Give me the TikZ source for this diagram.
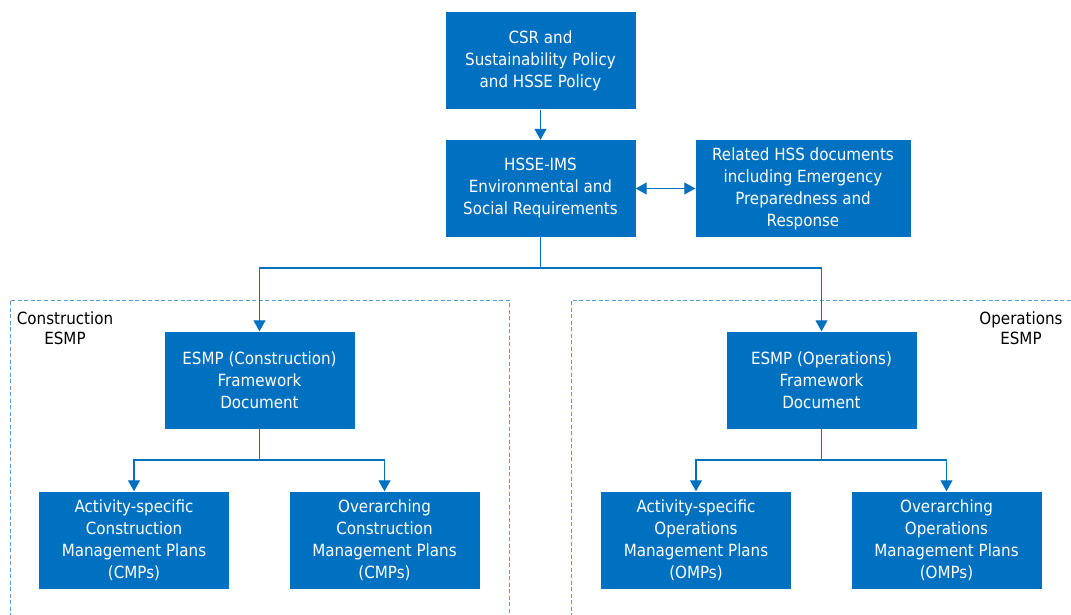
\documentclass[tikz,border=0pt]{standalone}
\usepackage{fontspec}
\setmainfont{DejaVu Sans Condensed}
\usetikzlibrary{arrows.meta}
\definecolor{esmpblue}{RGB}{0,112,192}
\definecolor{dashblue}{RGB}{91,155,213}
\begin{document}
\begin{tikzpicture}[x=1pt,y=-1pt,
    box/.style={fill=esmpblue, text=white, minimum width=190pt, minimum height=97pt, align=center, inner sep=2pt, font=\fontsize{16.8}{22}\selectfont},
    link/.style={draw=esmpblue, line width=1.1pt, -{Triangle[width=12pt,length=11pt]}},
    frame/.style={draw=dashblue, line width=1pt, dash pattern=on 4pt off 2.5pt},
    tag/.style={align=center, font=\fontsize{16.8}{20}\selectfont}]
        \useasboundingbox (0,0) rectangle (1071,615);
        % dashed frames
        \draw[frame] (10,630) -- (10,300) -- (509,300) -- (509,630);
        \draw[frame] (571,630) -- (571,300) -- (1085,300);
        \node[tag] (lbcon) at (65,328) {Construction\\ESMP};
        \node[tag] (lbops) at (1021,328) {Operations\\ESMP};
        % boxes
        \node[box] (policy) at (540.5,61) {CSR and\\Sustainability Policy\\and HSSE Policy};
        \node[box] (hsse) at (540.5,188.5) {HSSE-IMS\\Environmental and\\Social Requirements};
        \node[box, minimum width=215pt] (related) at (803,188.5) {Related HSS documents\\including Emergency\\Preparedness and\\Response};
        \node[box] (esmpc) at (259.5,380) {ESMP (Construction)\\Framework\\Document};
        \node[box] (esmpo) at (821.5,380) {ESMP (Operations)\\Framework\\Document};
        \node[box] (actc) at (134,540) {Activity-specific\\Construction\\Management Plans\\(CMPs)};
        \node[box] (overc) at (384.5,540) {Overarching\\Construction\\Management Plans\\(CMPs)};
        \node[box] (acto) at (696,540) {Activity-specific\\Operations\\Management Plans\\(OMPs)};
        \node[box] (overo) at (946.5,540) {Overarching\\Operations\\Management Plans\\(OMPs)};
        % connectors
        \coordinate (split) at (540.5,268);
        \coordinate (splitc) at (259.5,460);
        \coordinate (splito) at (821.5,460);
        \draw[link] (policy) -- (hsse);
        \draw[link, {Triangle[width=12pt,length=11pt]}-{Triangle[width=12pt,length=11pt]}] (hsse) -- (related);
        \draw[link] (hsse.south) -- (split) -| (esmpc.north);
        \draw[link] (split) -| (esmpo.north);
        \draw[link] (esmpc.south) -- (splitc) -| (actc.north);
        \draw[link] (splitc) -| (overc.north);
        \draw[link] (esmpo.south) -- (splito) -| (acto.north);
        \draw[link] (splito) -| (overo.north);
    \end{tikzpicture}
\end{document}
